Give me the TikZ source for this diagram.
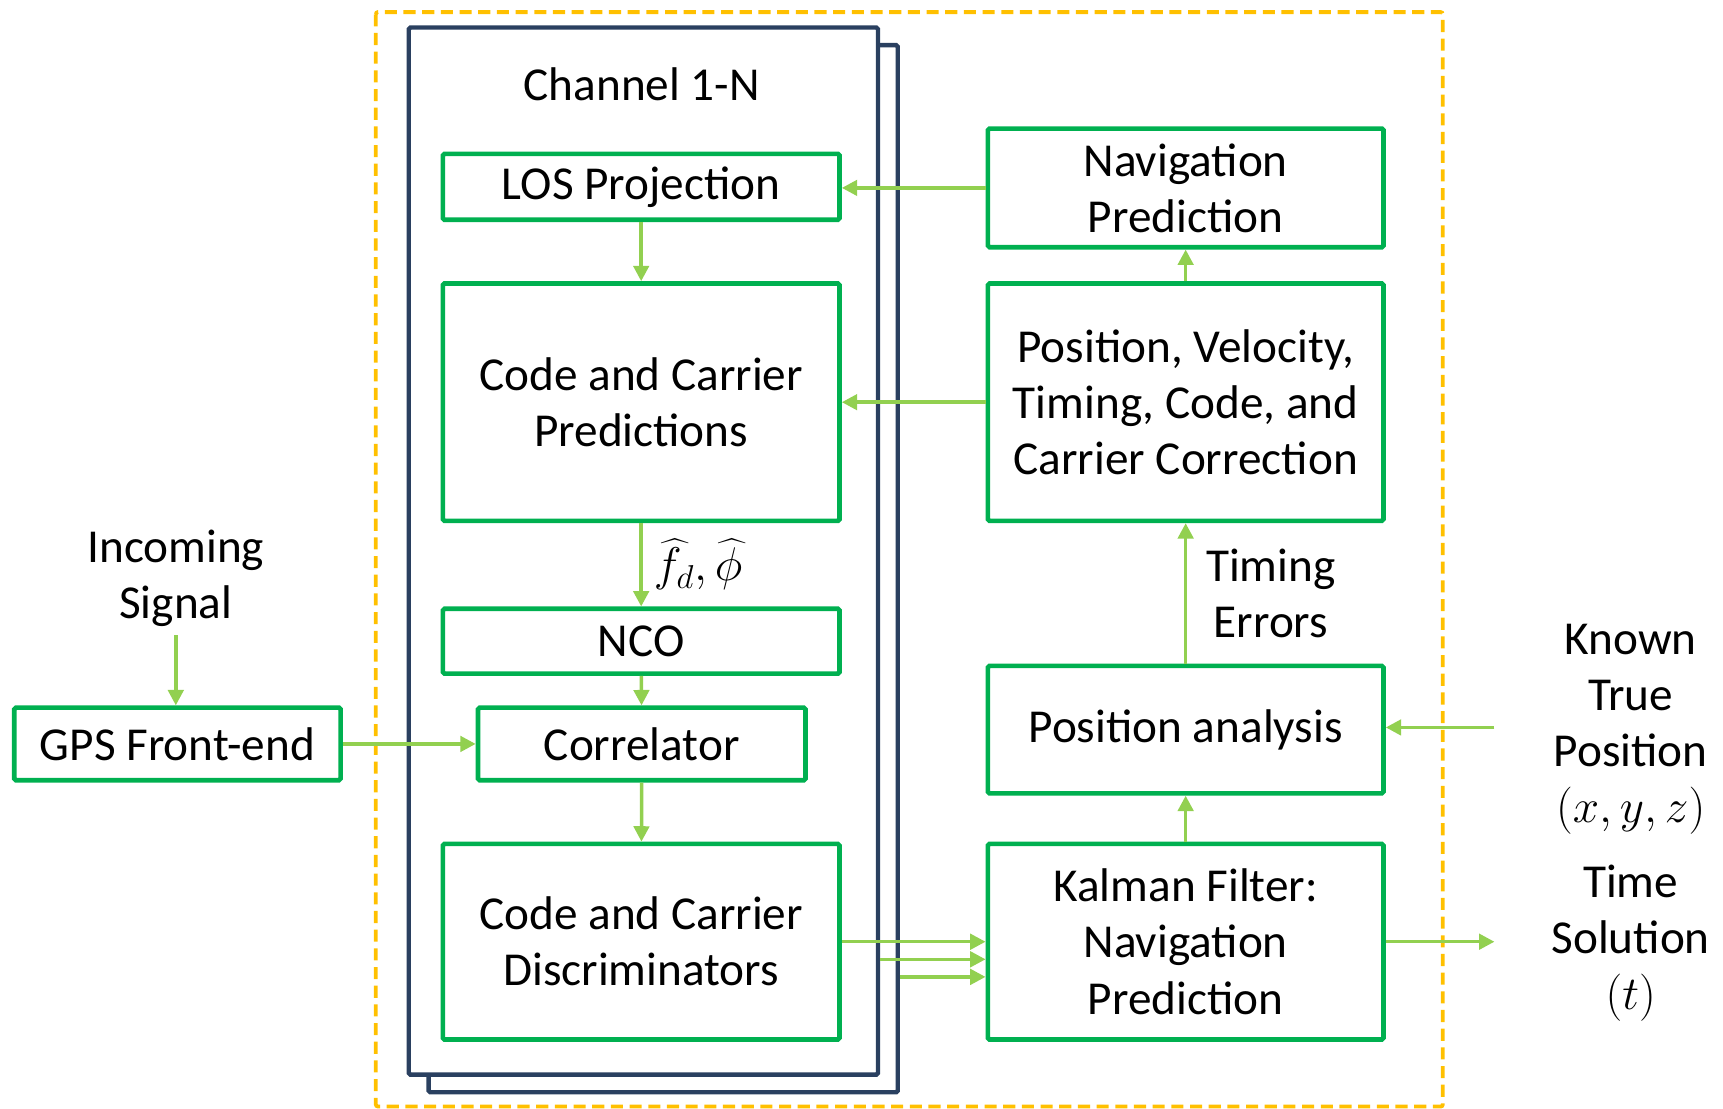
\RequirePackage{fix-cm}
\documentclass[tikz,border=0pt]{standalone}
\usepackage{amsmath}
\usepackage{fontspec}
\setmainfont{Carlito}
\usepackage{xcolor}
\usetikzlibrary{arrows.meta}

\definecolor{boxgreen}{HTML}{00B050}
\definecolor{arrowgreen}{HTML}{92D050}
\definecolor{chanblue}{HTML}{2A4060}
\definecolor{frameorange}{HTML}{FFC000}
\newcommand{\blkfont}{\fontsize{43}{51}\selectfont}

\tikzset{
  blk/.style={draw=boxgreen, line width=4.2pt, rounded corners=1.5pt, fill=white,
    align=center, inner sep=0pt, font=\blkfont},
  chan/.style={draw=chanblue, line width=4pt, rounded corners=1.5pt, fill=white, inner sep=0pt},
  lbl/.style={align=center, inner sep=0pt, font=\blkfont},
  flow/.style={draw=arrowgreen, line width=3.2pt, -{Triangle[length=14pt,width=14pt]}},
}

\begin{document}
\begin{tikzpicture}[x=1pt,y=1pt]
  \useasboundingbox (0,0) rectangle (1568,-1009);
  % outer frame
  \draw[frameorange, line width=3.5pt, dash pattern=on 11pt off 6pt, rounded corners=2pt]
    (342,-11) rectangle (1313,-1007);
  % channel stack
  \node[chan, minimum width=427, minimum height=953] (chanback) at (603.5,-517.5) {};
  \node[chan, minimum width=427, minimum height=953] (chanfront) at (585.5,-501.5) {};
  \node[lbl] (chlabel) at (584,-77) {Channel 1-N};
  % blocks inside the channel
  \node[blk, minimum width=361, minimum height=60] (los) at (583.5,-170) {LOS Projection};
  \node[blk, minimum width=361, minimum height=216] (pred) at (583.5,-366) {Code and Carrier\\Predictions};
  \node[blk, minimum width=361, minimum height=59] (nco) at (583.5,-583.5) {NCO};
  \node[blk, minimum width=298, minimum height=66] (corr) at (584,-677) {Correlator};
  \node[blk, minimum width=361, minimum height=178] (disc) at (583.5,-857) {Code and Carrier\\Discriminators};
  % navigation side
  \node[blk, minimum width=360, minimum height=108] (navp) at (1079,-171) {Navigation\\Prediction};
  \node[blk, minimum width=360, minimum height=216] (pvt) at (1079,-366) {Position, Velocity,\\Timing, Code, and\\Carrier Correction};
  \node[blk, minimum width=360, minimum height=116] (pa) at (1079,-664) {Position analysis};
  \node[blk, minimum width=360, minimum height=178] (kf) at (1079,-857) {Kalman Filter:\\Navigation\\Prediction};
  % front end and outside labels
  \node[blk, minimum width=297, minimum height=66] (gps) at (161.5,-677) {GPS Front-end};
  \node[lbl, inner sep=8pt] (insig) at (160,-526) {Incoming\\Signal};
  \node[lbl] (known) at (1484,-664) {Known\\True\\Position\\$(x,y,z)$};
  \node[lbl] (tsol) at (1484,-858) {Time\\Solution\\$(t)$};
  \coordinate (kin) at (1360,-662);
  \coordinate (kout) at (1360,-857);

  % connectors
  \draw[flow] (navp.west) -- (navp.west -| los.east);
  \draw[flow] (los) -- (pred);
  \draw[flow] (pvt.west) -- (pred.east);
  \draw[flow] (pred) -- node[lbl, right, xshift=10pt] {$\widehat{f}_d,\widehat{\phi}$} (nco);
  \draw[flow] (nco) -- (corr);
  \draw[flow] (corr) -- (disc);
  \draw[flow] (gps) -- (corr);
  \draw[flow] (insig.south) -- (insig.south |- gps.north);
  \draw[flow] (disc.east) -- (disc.east -| kf.west);
  \draw[flow] (chanfront.east |- 0,-873) -- (kf.west |- 0,-873);
  \draw[flow] (chanback.east |- 0,-889) -- (kf.west |- 0,-889);
  \draw[flow] (kf) -- (pa);
  \draw[flow] (pa) -- node[lbl, right, xshift=17pt] {Timing\\Errors} (pvt);
  \draw[flow] (pvt) -- (navp);
  \draw[flow] (kin) -- (kin -| pa.east);
  \draw[flow] (kf.east) -- (kout);
\end{tikzpicture}
\end{document}
